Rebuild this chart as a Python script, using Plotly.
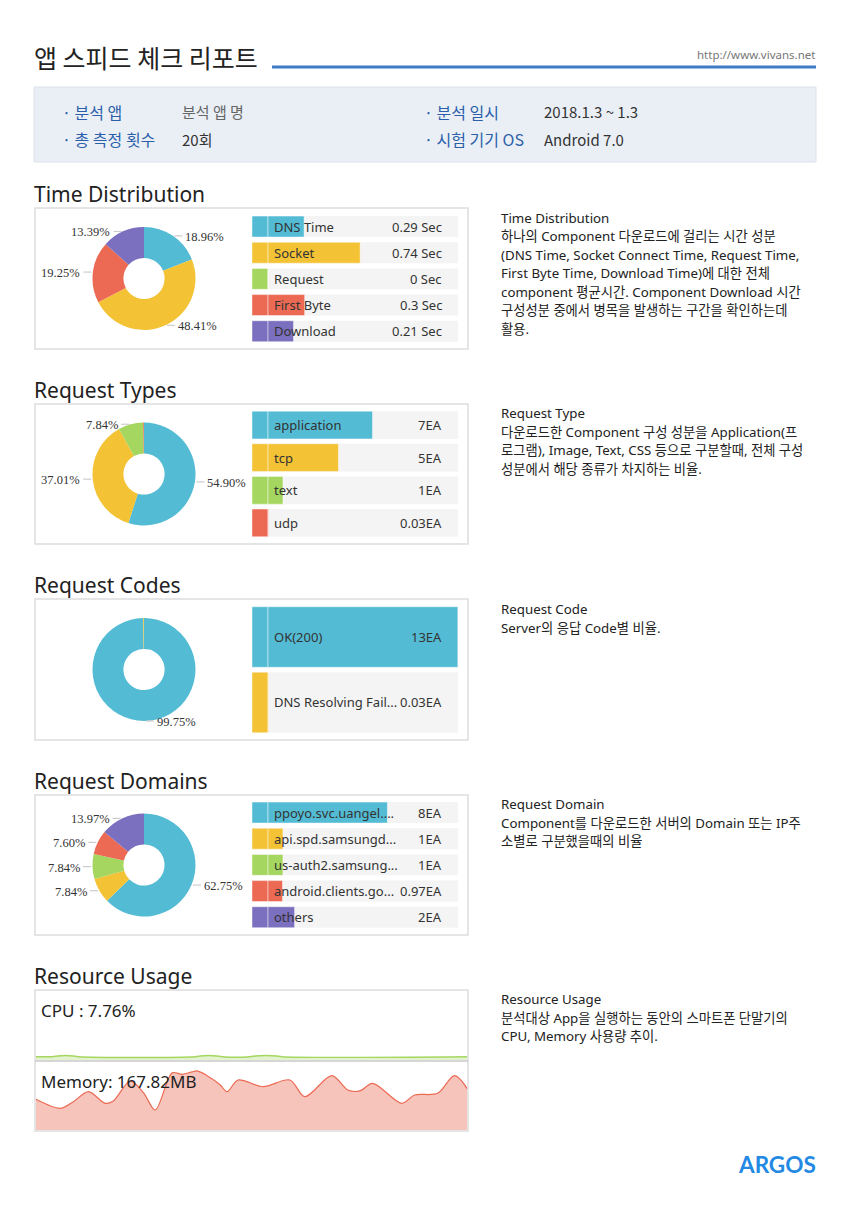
import math
import plotly.graph_objects as go

W, H = 850, 1216


def px(x):
    return x / W


def py(y):
    return 1 - y / H


COLORS = ["#53bcd4", "#f4c235", "#a5d65f", "#ec6a53", "#7b6fbf"]

# ---------------- data ----------------
time_names = ["DNS Time", "Socket", "Request", "First Byte", "Download"]
time_values = ["0.29 Sec", "0.74 Sec", "0 Sec", "0.3 Sec", "0.21 Sec"]
time_pct = [18.96, 48.41, 0.0, 19.25, 13.39]

type_names = ["application", "tcp", "text", "udp"]
type_values = ["7EA", "5EA", "1EA", "0.03EA"]
type_pct = [54.90, 37.01, 7.84, 0.25]

code_names = ["OK(200)", "DNS Resolving Fail..."]
code_values = ["13EA", "0.03EA"]
code_pct = [99.75, 0.25]

domain_names = ["ppoyo.svc.uangel....", "api.spd.samsungd...", "us-auth2.samsung...",
                "android.clients.go...", "others"]
domain_values = ["8EA", "1EA", "1EA", "0.97EA", "2EA"]
domain_pct = [62.75, 7.84, 7.84, 7.60, 13.97]

cpu_label = "CPU : 7.76%"
cpu_t = [0, 17, 22, 30, 38, 43, 160, 165, 174, 182, 187, 215, 220, 231, 242, 247, 433]
cpu_v = [5.5, 5.5, 6.8, 7.4, 6.8, 5.5, 5.5, 6.8, 7.4, 6.8, 5.5, 5.5, 6.8, 7.4, 6.8, 5.5, 5.5]

mem_label = "Memory: 167.82MB"
mem_t = [0, 25, 38, 53, 70, 78, 95, 108, 120, 137, 147, 157, 162, 172, 185, 192,
         203, 228, 255, 270, 297, 313, 325, 338, 367, 380, 403, 420, 433]
mem_v = [130, 91, 119, 161, 112, 122, 205, 158, 84, 240, 234, 244, 248, 228, 190, 161,
         210, 182, 210, 140, 228, 168, 164, 196, 112, 147, 154, 228, 172]

info_left = [("· 분석 앱", "분석 앱 명"), ("· 총 측정 횟수", "20회")]
info_right = [("· 분석 일시", "2018.1.3 ~ 1.3"), ("· 시험 기기 OS", "Android 7.0")]

desc_time = ["Time Distribution",
             "하나의 Component 다운로드에 걸리는 시간 성분",
             "(DNS Time, Socket Connect Time, Request Time,",
             "First Byte Time, Download Time)에 대한 전체",
             "component 평균시간. Component Download 시간",
             "구성성분 중에서 병목을 발생하는 구간을 확인하는데",
             "활용."]
desc_type = ["Request Type",
             "다운로드한 Component 구성 성분을 Application(프",
             "로그램), Image, Text, CSS 등으로 구분할때, 전체 구성",
             "성분에서 해당 종류가 차지하는 비율."]
desc_code = ["Request Code", "Server의 응답 Code별 비율."]
desc_domain = ["Request Domain",
               "Component를 다운로드한 서버의 Domain 또는 IP주",
               "소별로 구분했을때의 비율"]
desc_res = ["Resource Usage",
            "분석대상 App을 실행하는 동안의 스마트폰 단말기의",
            "CPU, Memory 사용량 추이."]

FONT = "Noto Sans, Noto Sans CJK KR, sans-serif"
KFONT = "Noto Sans CJK KR, Noto Sans, sans-serif"

fig = go.Figure()
shapes = []
annos = []


def text(t, x, y, size, color="#222", anchor="left", family=FONT, yref="paper", yval=None):
    dx = -2 if anchor == "left" else 2
    annos.append(dict(text=t, x=px(x + dx), y=(py(y) if yval is None else yval),
                      xref="paper", yref=yref, xanchor=anchor, yanchor="middle",
                      showarrow=False, font=dict(family=family, size=size, color=color)))


# ---------------- header ----------------
text("앱 스피드 체크 리포트", 34, 57, 25, "#222", family=KFONT)
shapes.append(dict(type="line", xref="paper", yref="paper", x0=px(272), x1=px(816),
                   y0=py(67), y1=py(67), line=dict(color="#3d7bc8", width=3)))
text("http://www.vivans.net", 815, 55, 11.5, "#777", anchor="right")

shapes.append(dict(type="rect", xref="paper", yref="paper", x0=px(34), x1=px(816),
                   y0=py(87), y1=py(162), fillcolor="#eaeff6",
                   line=dict(color="#dbe2ea", width=1), layer="below"))
for col_x, val_x, items in [(62, 182, info_left), (424, 544, info_right)]:
    for k, (lab, val) in enumerate(items):
        yy = 112 + 27 * k
        text(lab, col_x, yy, 16, "#2c5faa", family=KFONT)
        text(val, val_x, yy, 15, "#666" if val == "분석 앱 명" else "#333", family=KFONT)

# ---------------- sections ----------------
sections = [
    dict(title="Time Distribution", ty=194, box=(208, 349), cy=278.5, dom=(213.5, 344.3), gap=0.2,
         names=time_names, values=time_values, pct=time_pct, desc=desc_time, dy=218),
    dict(title="Request Types", ty=390, box=(404, 544), cy=474, dom=(408.7, 539.2), gap=0.15,
         names=type_names, values=type_values, pct=type_pct, desc=desc_type, dy=413),
    dict(title="Request Codes", ty=585.5, box=(599, 740), cy=669.5, dom=(604.3, 735.2), gap=0.075,
         names=code_names, values=code_values, pct=code_pct, desc=desc_code, dy=609),
    dict(title="Request Domains", ty=781, box=(795, 935), cy=865, dom=(799.5, 930.3), gap=0.2,
         names=domain_names, values=domain_values, pct=domain_pct, desc=desc_domain, dy=804),
]

STUB = 8.42
FULL = 100 + STUB
CX, R = 144, 51.5
layout_axes = {}

for i, s in enumerate(sections, start=1):
    n = len(s["names"])
    cols = COLORS[:n]
    xa, ya = f"x{i}", f"y{i}"
    bw = 1 - s["gap"]
    text(s["title"], 34, s["ty"], 21, "#222")
    shapes.append(dict(type="rect", xref="paper", yref="paper", x0=px(35), x1=px(468),
                       y0=py(s["box"][0]), y1=py(s["box"][1]),
                       line=dict(color="#dddddd", width=1.5), fillcolor="rgba(0,0,0,0)"))
    cy = s["cy"]
    fig.add_trace(go.Pie(values=s["pct"], labels=s["names"], sort=False, direction="clockwise",
                         rotation=0, hole=0.4, textinfo="none", hoverinfo="skip",
                         marker=dict(colors=cols, line=dict(width=0)),
                         domain=dict(x=[px(CX - R), px(CX + R)], y=[py(cy + R), py(cy - R)]),
                         showlegend=False))
    cum = 0
    for p in s["pct"]:
        if p >= 1:
            th = 2 * math.pi * (cum + p / 2) / 100
            ex = CX + R * math.sin(th)
            ey = cy - R * math.cos(th)
            side = 1 if math.sin(th) >= 0 else -1
            shapes.append(dict(type="line", xref="paper", yref="paper",
                               x0=px(ex + side * 1.5), x1=px(ex + side * 9.5),
                               y0=py(ey), y1=py(ey), line=dict(color="#cccccc", width=1.2)))
            text(f"{p:.2f}%", ex + side * 12.5, ey + 1, 12.5, "#333",
                 anchor="left" if side > 0 else "right", family="Liberation Serif, serif")
        cum += p
    fig.add_trace(go.Bar(y=s["names"], x=[FULL] * n, orientation="h", xaxis=xa, yaxis=ya,
                         width=bw, marker=dict(color="#f4f4f4", line=dict(width=0)),
                         hoverinfo="skip", showlegend=False))
    fig.add_trace(go.Bar(y=s["names"], x=[STUB] * n, orientation="h", xaxis=xa, yaxis=ya,
                         width=bw,
                         marker=dict(color=cols, line=dict(width=1, color="rgba(255,255,255,0.45)")),
                         hoverinfo="skip", showlegend=False))
    fig.add_trace(go.Bar(y=s["names"], x=s["pct"], base=[STUB] * n, orientation="h",
                         xaxis=xa, yaxis=ya, width=bw,
                         marker=dict(color=cols, line=dict(width=1, color="rgba(255,255,255,0.45)")),
                         hoverinfo="skip", showlegend=False))
    for nm, val in zip(s["names"], s["values"]):
        text(nm, 274, 0, 13, "#333", yref=ya, yval=nm)
        text(val, 442, 0, 13, "#333", anchor="right", yref=ya, yval=nm)
    layout_axes[f"xaxis{i}"] = dict(domain=[px(252), px(458.3)], range=[0, FULL], visible=False,
                                    anchor=ya, fixedrange=True)
    layout_axes[f"yaxis{i}"] = dict(domain=[py(s["dom"][1]), py(s["dom"][0])], visible=False,
                                    autorange="reversed", anchor=xa, fixedrange=True,
                                    type="category")
    for k, line in enumerate(s["desc"]):
        text(line, 501, s["dy"] + 18.5 * k, 13.3, "#222")

# ---------------- resource usage ----------------
text("Resource Usage", 34, 976, 21, "#222")
shapes.append(dict(type="rect", xref="paper", yref="paper", x0=px(35), x1=px(468),
                   y0=py(990), y1=py(1131), line=dict(color="#dddddd", width=1.5),
                   fillcolor="rgba(0,0,0,0)"))
fig.add_trace(go.Scatter(x=cpu_t, y=cpu_v, xaxis="x5", yaxis="y5", mode="lines",
                         line=dict(color="#a5d65f", width=1.5, shape="spline"),
                         fill="tozeroy", fillcolor="rgba(165,214,95,0.3)",
                         hoverinfo="skip", showlegend=False))
fig.add_trace(go.Scatter(x=mem_t, y=mem_v, xaxis="x6", yaxis="y6", mode="lines",
                         line=dict(color="#ec6a53", width=1.2, shape="spline", smoothing=0.9),
                         fill="tozeroy", fillcolor="#f7c4bc",
                         hoverinfo="skip", showlegend=False))
layout_axes["xaxis5"] = dict(domain=[px(35.5), px(467.5)], range=[0, 433], visible=False, anchor="y5")
layout_axes["yaxis5"] = dict(domain=[py(1060), py(1000)], range=[0, 100], visible=False, anchor="x5")
layout_axes["xaxis6"] = dict(domain=[px(35.5), px(467.5)], range=[0, 433], visible=False, anchor="y6")
layout_axes["yaxis6"] = dict(domain=[py(1130), py(1062)], range=[0, 285.6], visible=False, anchor="x6")
shapes.append(dict(type="line", xref="paper", yref="paper", x0=px(35), x1=px(468),
                   y0=py(1061), y1=py(1061), line=dict(color="#c8c8c8", width=1.5)))
text(cpu_label, 41, 1010, 17, "#222")
text(mem_label, 41, 1081, 17, "#222")
for k, line in enumerate(desc_res):
    text(line, 501, 999 + 18.5 * k, 13.3, "#222")

text("<b>ARGOS</b>", 816, 1164, 22.5, "#2389e3", anchor="right",
     family="Lato, Roboto, sans-serif")

fig.update_layout(width=W, height=H, margin=dict(l=0, r=0, t=0, b=0),
                  paper_bgcolor="white", plot_bgcolor="rgba(0,0,0,0)",
                  barmode="overlay", showlegend=False, shapes=shapes, annotations=annos,
                  **layout_axes)

fig.write_html("out.html", config={"displayModeBar": False, "staticPlot": True},
               post_script="document.body.style.margin='0px';")
